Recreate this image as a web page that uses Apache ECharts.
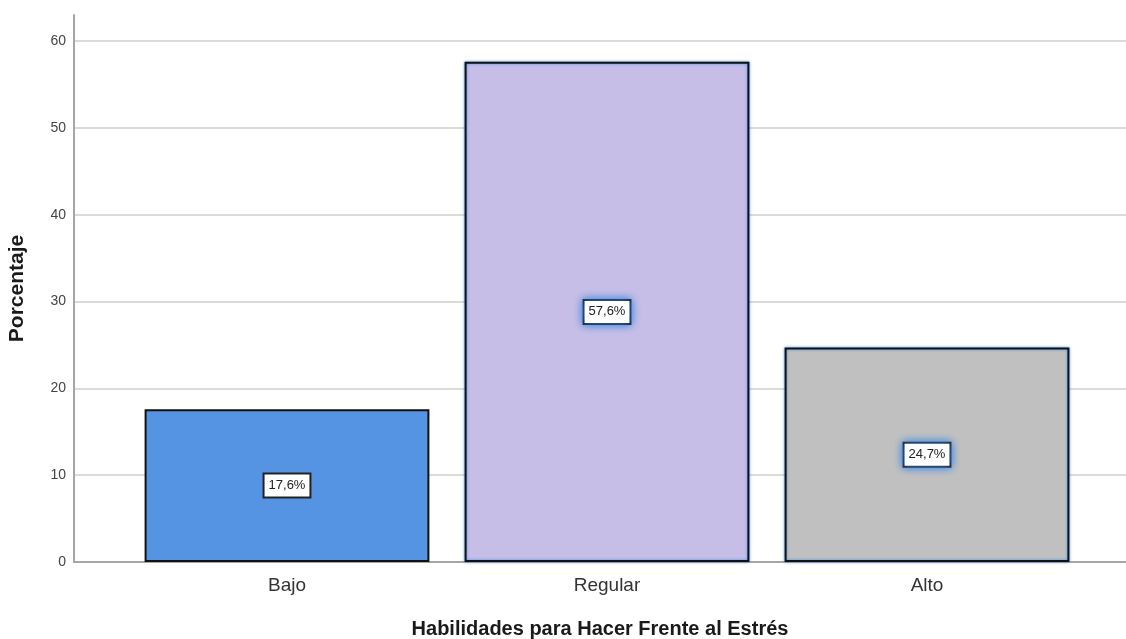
<!DOCTYPE html>
<html><head><meta charset="utf-8">
<script src="https://cdn.jsdelivr.net/npm/echarts@6/dist/echarts.min.js"></script>
<style>html,body{margin:0;padding:0;background:#fff}#c{width:1126px;height:639px}</style>
</head><body><div id="c"></div>
<script>
const categories = ['Bajo', 'Regular', 'Alto'];
const values = [17.6, 57.6, 24.7];
const barColors = ['#5494E3', '#C6BEE6', '#C0C0C0'];
const highlighted = [false, true, true];
const yTicks = [0, 10, 20, 30, 40, 50, 60];
const xTitle = 'Habilidades para Hacer Frente al Estrés';
const yTitle = 'Porcentaje';

const chart = echarts.init(document.getElementById('c'), null, {renderer: 'canvas'});
const FONT = 'Liberation Sans, Arial, sans-serif';
const option = {
  animation: false,
  backgroundColor: '#ffffff',
  grid: [
    {left: 74, right: 0, top: 15, bottom: 77, outerBoundsMode: 'none', containLabel: false},
    {left: 74, right: 0, top: 41, bottom: 77, outerBoundsMode: 'none', containLabel: false},
    {left: 127, right: 39, top: 41, bottom: 77, outerBoundsMode: 'none', containLabel: false}
  ],
  xAxis: [
    {gridIndex: 0, type: 'value', min: 0, max: 1,
     axisLine: {show: true, lineStyle: {color: '#A6A6A6', width: 2}},
     axisTick: {show: false}, axisLabel: {show: false}, splitLine: {show: false},
     name: xTitle, nameLocation: 'middle', nameGap: 57,
     nameTextStyle: {fontFamily: FONT, fontSize: 20, fontWeight: 'bold', color: '#1a1a1a'}},
    {gridIndex: 1, type: 'value', min: 0, max: 1, show: false},
    {gridIndex: 2, type: 'category', data: categories,
     axisLine: {show: false}, axisTick: {show: false},
     axisLabel: {fontFamily: FONT, fontSize: 19, color: '#333', margin: 14}}
  ],
  yAxis: [
    {gridIndex: 0, type: 'value', min: 0, max: 63,
     axisLine: {show: true, lineStyle: {color: '#A6A6A6', width: 2}},
     axisTick: {show: false}, axisLabel: {show: false}, splitLine: {show: false},
     name: yTitle, nameLocation: 'middle', nameGap: 46, nameRotate: 90,
     nameTextStyle: {fontFamily: FONT, fontSize: 21, fontWeight: 'bold', color: '#1a1a1a'}},
    {gridIndex: 1, type: 'value', min: yTicks[0], max: yTicks[yTicks.length - 1], interval: 10,
     axisLine: {show: false}, axisTick: {show: false},
     axisLabel: {fontFamily: FONT, fontSize: 14, color: '#444', margin: 8},
     splitLine: {show: true, lineStyle: {color: '#DADADA', width: 2}}},
    {gridIndex: 2, type: 'value', min: yTicks[0], max: yTicks[yTicks.length - 1], show: false}
  ],
  series: [{
    type: 'bar',
    xAxisIndex: 2, yAxisIndex: 2,
    barWidth: '89%',
    data: values.map((v, i) => ({
      value: v,
      itemStyle: {
        color: barColors[i], borderColor: '#111', borderWidth: 2,
        shadowColor: highlighted[i] ? 'rgba(60,140,230,1)' : 'transparent',
        shadowBlur: highlighted[i] ? 3 : 0
      },
      label: {
        shadowColor: highlighted[i] ? 'rgba(45,130,235,1)' : 'transparent',
        shadowBlur: highlighted[i] ? 9 : 0
      }
    })),
    label: {
      show: true, position: 'inside',
      formatter: p => p.value.toFixed(1).replace('.', ',') + '%',
      fontFamily: FONT, fontSize: 13, color: '#222',
      backgroundColor: '#fff', borderColor: '#222', borderWidth: 2,
      padding: [5, 4, 4, 4]
    }
  }]
};
chart.setOption(option);
</script></body></html>
